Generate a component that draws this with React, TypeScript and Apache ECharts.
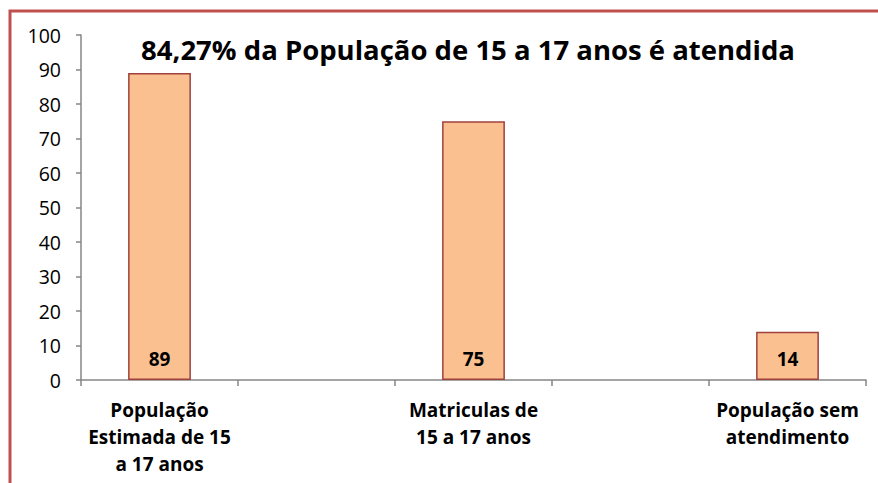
import React, { useEffect, useRef } from "react";
import * as echarts from "echarts";

const categories = [
  "População\nEstimada de 15\na 17 anos",
  "",
  "Matriculas de\n15 a 17 anos",
  "",
  "População sem\natendimento",
];
const values: (number | string)[] = [89, "-", 75, "-", 14];
const yTicks = { min: 0, max: 100, interval: 10 };
const titleText = "84,27% da População de 15 a 17 anos é atendida";

export default function App() {
  const ref = useRef<HTMLDivElement>(null);
  useEffect(() => {
    if (!ref.current) return;
    const chart = echarts.init(ref.current, undefined, { renderer: "svg" });
    const font = "'Open Sans', 'Noto Sans', sans-serif";
    chart.setOption({
      animation: false,
      backgroundColor: "#ffffff",
      textStyle: { fontFamily: font },
      grid: { left: 81, right: 12, top: 35, bottom: 103, containLabel: false },
      graphic: [
        {
          type: "rect",
          shape: { x: 10, y: 11, width: 1000, height: 1000 },
          style: { fill: "none", stroke: "#C0504D", lineWidth: 3 },
          silent: true,
          z: 100,
        },
        {
          type: "text",
          x: 468,
          y: 49,
          style: {
            text: titleText,
            font: `bold 27.5px ${font}`,
            fill: "#000000",
            textAlign: "center",
            textVerticalAlign: "middle",
          },
          z: 50,
        },
      ],
      xAxis: {
        type: "category",
        data: categories,
        boundaryGap: true,
        axisLine: { lineStyle: { color: "#868686", width: 1.5 } },
        axisTick: { show: true, length: 6, alignWithLabel: false, interval: 0, lineStyle: { color: "#868686", width: 1.5 } },
        axisLabel: {
          interval: 0,
          color: "#000000",
          fontFamily: font,
          fontWeight: "bold",
          fontSize: 19,
          lineHeight: 27,
          margin: 16,
        },
      },
      yAxis: {
        type: "value",
        min: yTicks.min,
        max: yTicks.max,
        interval: yTicks.interval,
        splitLine: { show: false },
        axisLine: { show: true, lineStyle: { color: "#868686", width: 1.5 } },
        axisTick: { show: true, length: 5, lineStyle: { color: "#868686", width: 1.5 } },
        axisLabel: { color: "#000000", fontFamily: font, fontSize: 19.5, margin: 20 },
      },
      series: [
        {
          type: "bar",
          data: values,
          barWidth: "40%",
          itemStyle: { color: "#FAC090", borderColor: "#A0413C", borderWidth: 1.5 },
          label: {
            show: true,
            position: "insideBottom",
            distance: 12,
            color: "#000000",
            fontFamily: font,
            fontWeight: "bold",
            fontSize: 19,
          },
        },
      ],
    });
    return () => chart.dispose();
  }, []);
  return (
    <div
      ref={ref}
      style={{ position: "fixed", left: 0, top: 0, width: 878, height: 483 }}
    />
  );
}
